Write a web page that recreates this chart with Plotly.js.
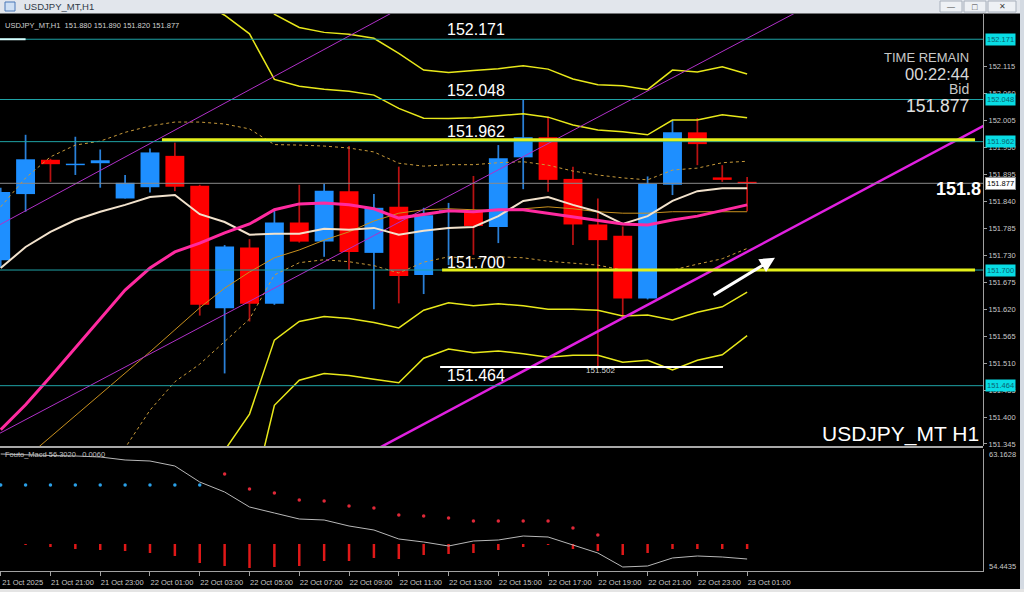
<!DOCTYPE html>
<html><head><meta charset="utf-8">
<script src="https://cdn.plot.ly/plotly-3.0.1.min.js"></script>
<style>html,body{margin:0;padding:0;background:#000;}#chart{width:1024px;height:592px;}</style>
</head><body><div id="chart"></div>
<script>
// ---- data ----
const times = ['21 Oct 19:00','21 Oct 20:00','21 Oct 21:00','21 Oct 22:00','21 Oct 23:00',
 '22 Oct 00:00','22 Oct 01:00','22 Oct 02:00','22 Oct 03:00','22 Oct 04:00','22 Oct 05:00','22 Oct 06:00',
 '22 Oct 07:00','22 Oct 08:00','22 Oct 09:00','22 Oct 10:00','22 Oct 11:00','22 Oct 12:00','22 Oct 13:00',
 '22 Oct 14:00','22 Oct 15:00','22 Oct 16:00','22 Oct 17:00','22 Oct 18:00','22 Oct 19:00','22 Oct 20:00',
 '22 Oct 21:00','22 Oct 22:00','22 Oct 23:00','23 Oct 00:00','23 Oct 01:00'];
const openP  = [151.720,151.855,151.925,151.914,151.918,151.846,151.869,151.933,151.872,151.622,151.746,151.631,151.797,151.758,151.861,151.735,151.829,151.690,151.819,151.819,151.788,151.930,151.971,151.886,151.793,151.770,151.642,151.874,151.981,151.889,151.880];
const highP  = [151.868,151.976,151.927,151.972,151.946,151.894,151.948,151.960,151.874,151.751,151.763,151.821,151.874,151.876,151.953,151.855,151.911,151.827,151.837,151.892,151.955,152.047,152.013,151.911,151.846,151.789,151.891,152.006,152.010,151.914,151.890];
const lowP   = [151.705,151.819,151.880,151.894,151.868,151.846,151.858,151.861,151.607,151.489,151.595,151.629,151.756,151.727,151.700,151.620,151.632,151.651,151.710,151.731,151.755,151.865,151.860,151.751,151.502,151.605,151.640,151.853,151.914,151.880,151.820];
const closeP = [151.859,151.926,151.916,151.917,151.924,151.878,151.940,151.870,151.629,151.748,151.631,151.797,151.758,151.862,151.737,151.827,151.688,151.812,151.822,151.790,151.928,151.971,151.884,151.793,151.761,151.642,151.876,151.981,151.957,151.884,151.877];

const maFast = [151.704,151.747,151.778,151.802,151.819,151.833,151.849,151.853,151.814,151.798,151.772,151.774,151.774,151.784,151.782,151.786,151.772,151.780,151.786,151.788,151.810,151.841,151.849,151.833,151.819,151.794,151.810,151.841,151.861,151.867,151.867];
const maMid  = [151.374,151.425,151.482,151.541,151.598,151.659,151.704,151.737,151.755,151.776,151.794,151.823,151.835,151.837,151.833,151.825,151.806,151.814,151.821,151.819,151.823,151.823,151.816,151.808,151.802,151.794,151.792,151.802,151.810,151.821,151.833];
const maSlow = [null,151.316,151.359,151.402,151.447,151.490,151.533,151.578,151.623,151.663,151.696,151.725,151.741,151.761,151.778,151.800,151.816,151.823,151.825,151.823,151.821,151.825,151.829,151.825,151.819,151.816,151.816,151.819,151.819,151.819,151.819];

const bbUp1 = [151.829,151.888,151.931,151.955,151.963,151.981,151.994,152.002,152.002,151.998,151.988,151.956,151.955,151.953,151.949,151.941,151.918,151.912,151.915,151.915,151.919,151.921,151.914,151.902,151.894,151.888,151.884,151.904,151.908,151.919,151.922];
const bbUp2 = [152.284,152.351,152.380,152.369,152.328,152.303,152.284,152.267,152.249,152.220,152.182,152.089,152.075,152.069,152.065,152.057,152.030,152.010,152.009,152.011,152.015,152.019,152.012,151.996,151.986,151.982,151.976,152.006,152.006,152.017,152.011];
const bbUp3 = [152.739,152.814,152.829,152.783,152.693,152.625,152.574,152.532,152.496,152.442,152.376,152.222,152.195,152.185,152.181,152.173,152.142,152.108,152.103,152.107,152.111,152.117,152.110,152.090,152.078,152.076,152.068,152.108,152.104,152.115,152.100];
const bbLo1 = [150.919,150.962,151.033,151.127,151.233,151.337,151.414,151.472,151.508,151.554,151.600,151.690,151.715,151.721,151.717,151.709,151.694,151.716,151.727,151.723,151.727,151.725,151.718,151.714,151.710,151.700,151.700,151.700,151.712,151.723,151.744];
const bbLo2 = [150.464,150.499,150.584,150.713,150.868,151.015,151.124,151.207,151.261,151.332,151.406,151.557,151.595,151.605,151.601,151.593,151.582,151.618,151.633,151.627,151.631,151.627,151.620,151.620,151.618,151.606,151.608,151.598,151.614,151.625,151.655];
const bbLo3 = [150.009,150.036,150.135,150.299,150.503,150.693,150.834,150.942,151.014,151.110,151.212,151.424,151.475,151.489,151.485,151.477,151.470,151.520,151.539,151.531,151.535,151.529,151.522,151.526,151.526,151.512,151.516,151.496,151.516,151.527,151.566];

// indicator panel
const oscLine = [62.806,62.734,62.698,62.663,62.591,62.377,62.305,61.948,60.804,60.090,59.018,58.589,58.160,58.088,57.660,57.374,56.731,56.516,56.230,56.588,56.659,56.945,56.873,56.302,55.730,54.729,54.801,55.373,55.516,55.444,55.301];
const dotsUp   = [60.590,60.590,60.590,60.590,60.590,60.590,60.590,60.590,60.590,null,null,null,null,null,null,null,null,null,null,null,null,null,null,null,null,null,null,null,null,null,null];
const dotsDown = [null,null,null,null,null,null,null,null,null,61.376,60.304,60.018,59.518,59.446,59.089,58.946,58.446,58.374,58.231,58.017,58.017,58.017,58.017,57.517,57.016,null,null,null,null,null,null];
const histLow  = [null,56.300,56.159,56.016,55.944,55.873,55.730,55.516,55.015,54.801,54.658,54.729,54.801,55.158,55.158,55.373,55.301,55.587,55.659,55.730,55.944,56.159,56.302,56.016,55.873,55.587,55.730,56.016,56.016,56.016,56.016];
const histZero = 56.373;
const oscMax = 63.1628, oscMin = 54.4435;

const tickIdx  = [0,2,4,6,8,10,12,14,16,18,20,22,24,26,28,30];
const tickText = ['21 Oct 2025','21 Oct 21:00','21 Oct 23:00','22 Oct 01:00','22 Oct 03:00','22 Oct 05:00','22 Oct 07:00','22 Oct 09:00','22 Oct 11:00','22 Oct 13:00','22 Oct 15:00','22 Oct 17:00','22 Oct 19:00','22 Oct 21:00','22 Oct 23:00','23 Oct 01:00'];
const priceTicks = [152.115,152.060,152.005,151.950,151.895,151.840,151.785,151.730,151.675,151.620,151.565,151.510,151.455,151.400,151.345];

const levels = [152.171, 152.048, 151.962, 151.700, 151.464];
const levelText = ['152.171','152.048','151.962','151.700','151.464'];
const levelTextY = [152.190,152.067,151.982,151.716,151.484];
const bidPrice = 151.877;
const yellowLevels = [151.966, 151.700];
const yellowFrom = [6.48, 17.74];
const yellowTo = [39.16, 39.16];
const lowMark = 151.502, lowMarkFrom = 17.66, lowMarkTo = 29.03;
const trendThickX = [15.1, 39.6], trendThickY = [151.334, 151.997];
const trendUpX = [-1, 16], trendUpY = [151.766, 152.2325];
const trendLoX = [-1, 32], trendLoY = [151.341, 152.2265];
const arrowTail = [28.59, 151.647], arrowHead = [31.12, 151.725];

// ---- build ----
const xi = times.map((t,i)=>i);
const bullX=[],bullB=[],bullH=[],bearX=[],bearB=[],bearH=[],wickC=[];
xi.forEach(i=>{
  const o=openP[i], c=closeP[i];
  const h=Math.max(Math.abs(c-o),0.003);
  if(c>=o){bullX.push(i);bullB.push(o);bullH.push(h);wickC.push('#2a80d8');}
  else{bearX.push(i);bearB.push(c);bearH.push(h);wickC.push('#b81212');}
});
const L = {xaxis:'x', yaxis:'y', hoverinfo:'skip'};
const line = (y,color,width,dash)=>Object.assign({type:'scatter',mode:'lines',x:xi,y:y,line:{color:color,width:width,dash:dash||'solid'}},L);
const traces = [
  line(bbUp3,'#e8e81a',1.5), line(bbUp2,'#e8e81a',1.5), line(bbLo2,'#e8e81a',1.5), line(bbLo3,'#e8e81a',1.5),
  line(bbUp1,'#c89a3a',1,'dot'), line(bbLo1,'#c89a3a',1,'dot'),
  line(maSlow,'#c8901e',1),
  Object.assign({type:'scatter',mode:'lines',x:trendUpX,y:trendUpY,line:{color:'#b030c8',width:1}},L),
  Object.assign({type:'scatter',mode:'lines',x:trendLoX,y:trendLoY,line:{color:'#b030c8',width:1}},L),
  Object.assign({type:'bar',x:xi,base:lowP,y:xi.map(i=>highP[i]-lowP[i]),width:0.07,marker:{color:wickC,line:{width:0}}},L),
  Object.assign({type:'bar',x:bullX,base:bullB,y:bullH,width:0.76,marker:{color:'#1e8fff',line:{width:0}}},L),
  Object.assign({type:'bar',x:bearX,base:bearB,y:bearH,width:0.76,marker:{color:'#ff0000',line:{width:0}}},L),
  line(maFast,'#f2e2cc',2),
  line(maMid,'#ff2aa0',3),
  Object.assign({type:'scatter',mode:'lines',x:trendThickX,y:trendThickY,line:{color:'#e020e0',width:2.5}},L),
  // indicator
  {type:'bar',x:xi,base:histZero,y:histLow.map(v=>v==null?null:v-histZero),width:0.1,marker:{color:'#e01818',line:{width:0}},xaxis:'x',yaxis:'y2',hoverinfo:'skip'},
  {type:'scatter',mode:'lines',x:xi,y:oscLine,line:{color:'#b8b8b8',width:1},xaxis:'x',yaxis:'y2',hoverinfo:'skip'},
  {type:'scatter',mode:'markers',x:xi,y:dotsUp,marker:{color:'#2aa0e8',size:3.5},xaxis:'x',yaxis:'y2',hoverinfo:'skip'},
  {type:'scatter',mode:'markers',x:xi,y:dotsDown,marker:{color:'#e02838',size:3.5},xaxis:'x',yaxis:'y2',hoverinfo:'skip'}
];

const P = v=>v/983; // px to paper x
const PY = v=>(571-v)/557; // px to paper y
const shapes = [];
levels.forEach(lv=>shapes.push({type:'line',xref:'paper',yref:'y',x0:0,x1:1,y0:lv,y1:lv,line:{color:'#1fa3a6',width:1}}));
shapes.push({type:'line',xref:'paper',yref:'y',x0:0,x1:1,y0:bidPrice,y1:bidPrice,line:{color:'#8a8a8a',width:1}});
yellowLevels.forEach((lv,k)=>shapes.push({type:'line',xref:'x',yref:'y',x0:yellowFrom[k],x1:yellowTo[k],y0:lv,y1:lv,line:{color:'#e4f01a',width:3}}));
shapes.push({type:'line',xref:'x',yref:'y',x0:lowMarkFrom,x1:lowMarkTo,y0:lowMark,y1:lowMark,line:{color:'#ffffff',width:2}});
shapes.push({type:'line',xref:'x',yref:'y',x0:-0.03,x1:1.0,y0:levels[0],y1:levels[0],line:{color:'#d8ffff',width:2}});
// separator between panels
shapes.push({type:'line',xref:'paper',yref:'paper',x0:0,x1:1,y0:PY(447),y1:PY(447),line:{color:'#a8a8a8',width:2}});
// window chrome
shapes.push({type:'rect',xref:'paper',yref:'paper',x0:P(-1),x1:P(1025),y0:PY(13.5),y1:PY(-1),fillcolor:'#e2e6ec',line:{width:0},layer:'above'});
shapes.push({type:'rect',xref:'paper',yref:'paper',x0:P(1020),x1:P(1025),y0:PY(593),y1:PY(-1),fillcolor:'#d4dae2',line:{width:0},layer:'above'});
shapes.push({type:'rect',xref:'paper',yref:'paper',x0:P(-1),x1:P(1025),y0:PY(593),y1:PY(589),fillcolor:'#e4e4e4',line:{width:0},layer:'above'});
shapes.push({type:'rect',xref:'paper',yref:'paper',x0:P(5),x1:P(15),y0:PY(11),y1:PY(2),fillcolor:'#cfe0f4',line:{color:'#4a78b8',width:1},layer:'above'});
[[940,962],[964,986],[988,1016]].forEach(b=>shapes.push({type:'rect',xref:'paper',yref:'paper',x0:P(b[0]),x1:P(b[1]),y0:PY(12),y1:PY(1),fillcolor:'#eef1f5',line:{color:'#a8b0bc',width:1},layer:'above'}));

const F = 'Liberation Sans, Arial, sans-serif';
const ann = [];
const txt = (x,y,t,o)=>ann.push(Object.assign({x:x,y:y,text:t,showarrow:false,yanchor:'middle',font:{family:F,size:16,color:'#ffffff'}},o||{}));
levelText.forEach((t,k)=>{
  txt(17.86,levelTextY[k],t,{xref:'x',yref:'y',xanchor:'left'});
  ann.push({xref:'paper',yref:'y',x:P(985),y:levels[k],text:t,showarrow:false,xanchor:'left',yanchor:'middle',bgcolor:'#08dce4',borderpad:1,font:{family:F,size:7.5,color:'#0a6470'}});
});
ann.push({xref:'paper',yref:'y',x:P(985),y:bidPrice,text:'151.877',showarrow:false,xanchor:'left',yanchor:'middle',bgcolor:'#ffffff',bordercolor:'#909090',borderpad:1,font:{family:F,size:7.5,color:'#000000'}});
txt(24.09,151.494,'151.502',{xref:'x',yref:'y',xanchor:'center',font:{family:F,size:8,color:'#d8d8d8'}});
txt(1,151.8654,'<b>151.8</b>',{xref:'paper',yref:'y',xanchor:'right',font:{family:F,size:18,color:'#ffffff'}});
txt(P(971),PY(58),'TIME REMAIN',{xref:'paper',yref:'paper',xanchor:'right',font:{family:F,size:13,color:'#c8c8c8'}});
txt(P(971),PY(74),'00:22:44',{xref:'paper',yref:'paper',xanchor:'right',font:{family:F,size:16.5,color:'#d8d8d8'}});
txt(P(971),PY(89),'Bid',{xref:'paper',yref:'paper',xanchor:'right',font:{family:F,size:14,color:'#c8c8c8'}});
txt(P(971),PY(106),'151.877',{xref:'paper',yref:'paper',xanchor:'right',font:{family:F,size:17.5,color:'#e0e0e0'}});
txt(P(981),PY(434),'USDJPY_MT H1',{xref:'paper',yref:'paper',xanchor:'right',font:{family:F,size:21,color:'#ffffff'}});
txt(P(3),PY(25),'USDJPY_MT,H1&nbsp;&nbsp;151.880 151.890 151.820 151.877',{xref:'paper',yref:'paper',xanchor:'left',font:{family:F,size:7.5,color:'#d0d0d0'}});
txt(P(3),PY(454),'Fouto_Macd 56.3020&nbsp;&nbsp;&nbsp;0.0060',{xref:'paper',yref:'paper',xanchor:'left',font:{family:F,size:7.5,color:'#c0c0c0'}});
txt(P(987),PY(454),String(oscMax),{xref:'paper',yref:'paper',xanchor:'left',font:{family:F,size:7.5,color:'#c8c8c8'}});
txt(P(987),PY(566),String(oscMin),{xref:'paper',yref:'paper',xanchor:'left',font:{family:F,size:7.5,color:'#c8c8c8'}});
txt(P(22),PY(6.5),'USDJPY_MT,H1',{xref:'paper',yref:'paper',xanchor:'left',font:{family:F,size:9.5,color:'#303a48'}});
txt(P(951),PY(6.5),'—',{xref:'paper',yref:'paper',xanchor:'center',font:{family:F,size:8,color:'#404040'}});
txt(P(975),PY(6.5),'□',{xref:'paper',yref:'paper',xanchor:'center',font:{family:F,size:9,color:'#404040'}});
txt(P(1002),PY(6.5),'✕',{xref:'paper',yref:'paper',xanchor:'center',font:{family:F,size:8,color:'#404040'}});
ann.push({xref:'x',yref:'y',axref:'x',ayref:'y',x:arrowHead[0],y:arrowHead[1],ax:arrowTail[0],ay:arrowTail[1],text:'',showarrow:true,arrowhead:2,arrowsize:1,arrowwidth:3,arrowcolor:'#ffffff'});

const layout = {
  width:1024, height:592,
  margin:{l:0,r:41,t:14,b:21,pad:0},
  paper_bgcolor:'#000000', plot_bgcolor:'#000000',
  showlegend:false, barmode:'overlay', hovermode:false,
  xaxis:{range:[-0.028,39.48],anchor:'y2',tickmode:'array',tickvals:tickIdx,ticktext:tickText,ticks:'outside',ticklen:4,tickcolor:'#a0a0a0',
    tickfont:{family:F,size:7.5,color:'#c8c8c8'},ticklabelshift:22,ticklabelstandoff:0,showline:true,linecolor:'#a0a0a0',showgrid:false,zeroline:false},
  yaxis:{domain:[125/557,1],range:[151.3409,152.2225],side:'right',anchor:'x',tickmode:'array',tickvals:priceTicks,ticktext:priceTicks.map(v=>v.toFixed(3)),
    ticks:'outside',ticklen:3,tickcolor:'#a0a0a0',tickfont:{family:F,size:7.5,color:'#c8c8c8'},showline:true,linecolor:'#a0a0a0',showgrid:false,zeroline:false},
  yaxis2:{domain:[0,122/557],range:[oscMin,oscMax],side:'right',anchor:'x',showticklabels:false,ticks:'',showline:true,linecolor:'#a0a0a0',showgrid:false,zeroline:false},
  shapes:shapes, annotations:ann
};
Plotly.newPlot('chart',traces,layout,{staticPlot:true,displayModeBar:false});
</script></body></html>
